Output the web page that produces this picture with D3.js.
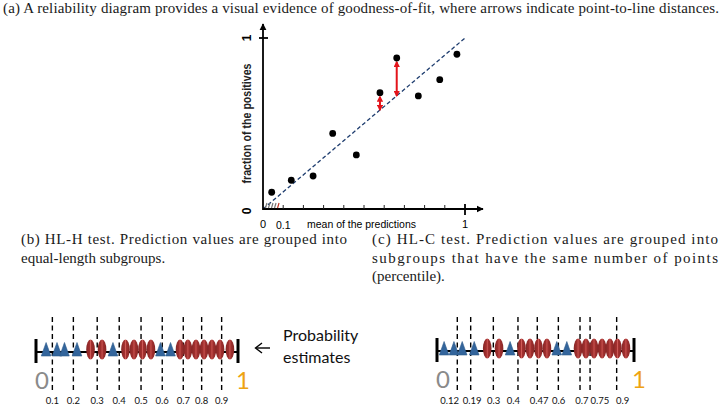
<!DOCTYPE html>
<html>
<head>
<meta charset="utf-8">
<script src="https://cdn.jsdelivr.net/npm/d3@7"></script>
<style>
  html, body { margin: 0; padding: 0; background: #fff; }
  svg { display: block; }
</style>
</head>
<body>
<svg id="chart" width="723" height="409"></svg>
<script>
// ---------------- DATA ----------------
// (a) reliability diagram
const meanPred   = [0.043, 0.140, 0.248, 0.345, 0.462, 0.579, 0.662, 0.769, 0.875, 0.960];
const fracPos    = [0.098, 0.168, 0.193, 0.442, 0.316, 0.680, 0.883, 0.661, 0.756, 0.905];
const arrowIdx   = [5, 6];
const minorTicks = [0.1, 0.2, 0.3, 0.4, 0.5, 0.6, 0.7, 0.8, 0.9];

// (b) HL-H test: equal-length subgroups
const hlhCuts      = [0.081, 0.185, 0.303, 0.412, 0.520, 0.625, 0.729, 0.820, 0.919];
const hlhLabelPos  = [0.081, 0.185, 0.303, 0.412, 0.520, 0.625, 0.729, 0.820, 0.919];
const hlhLabels    = ["0.1", "0.2", "0.3", "0.4", "0.5", "0.6", "0.7", "0.8", "0.9"];
const hlhTriangles = [0.050, 0.104, 0.141, 0.203, 0.381, 0.616, 0.666];
const hlhEllipses  = [0.270, 0.327, 0.443, 0.485, 0.527, 0.569, 0.713, 0.752, 0.792, 0.832, 0.871, 0.911, 0.960];

// (c) HL-C test: equal-count subgroups (percentile)
const hlcCuts      = [0.103, 0.171, 0.286, 0.411, 0.509, 0.616, 0.726, 0.777, 0.912];
const hlcLabelPos  = [0.064, 0.178, 0.287, 0.388, 0.518, 0.617, 0.736, 0.827, 0.942];
const hlcLabels    = ["0.12", "0.19", "0.3", "0.4", "0.47", "0.6", "0.7", "0.75", "0.9"];
const hlcTriangles = [0.036, 0.086, 0.128, 0.189, 0.371, 0.608, 0.659];
const hlcEllipses  = [0.255, 0.315, 0.429, 0.472, 0.515, 0.558, 0.716, 0.756, 0.797, 0.838, 0.878, 0.916, 0.959];

// captions
const captionA  = "(a) A reliability diagram provides a visual evidence of goodness-of-fit, where arrows indicate point-to-line distances.";
const captionB  = ["(b) HL-H test.  Prediction values are grouped into", "equal-length subgroups."];
const captionC  = ["(c) HL-C test.  Prediction values are grouped into", "subgroups that have the same number of points", "(percentile)."];
const sideLabel = ["Probability", "estimates"];

// ---------------- DRAW ----------------
const svg = d3.select("#chart");
const defs = svg.append("defs");

const serif = "'Liberation Serif', 'DejaVu Serif', serif";
const sans = "'Liberation Sans', Arial, sans-serif";
const calibri = "Lato, 'Open Sans', sans-serif";

defs.append("marker").attr("id", "redHead")
  .attr("viewBox", "0 0 10 10").attr("refX", 8).attr("refY", 5)
  .attr("markerWidth", 3.2).attr("markerHeight", 3.2)
  .attr("orient", "auto-start-reverse")
  .append("path").attr("d", "M0,0 L10,5 L0,10 z").attr("fill", "#e3141b");
defs.append("marker").attr("id", "blackHead")
  .attr("viewBox", "0 0 10 10").attr("refX", 9).attr("refY", 5)
  .attr("markerWidth", 4).attr("markerHeight", 4)
  .attr("orient", "auto")
  .append("path").attr("d", "M0,0 L10,5 L0,10 z").attr("fill", "#000");

const grad = defs.append("linearGradient").attr("id", "ellGrad")
  .attr("x1", "0%").attr("x2", "100%").attr("y1", "0%").attr("y2", "0%");
[["0%", "#862626"], ["40%", "#a3302f"], ["50%", "#cf5b58"], ["60%", "#a3302f"], ["100%", "#862626"]]
  .forEach(([o, c]) => grad.append("stop").attr("offset", o).attr("stop-color", c));

// ---- captions ----
const capFont = 15;
function caption(txt, cx, cy, w) {
  const t = svg.append("text").attr("x", cx).attr("y", cy)
    .attr("font-family", serif).attr("font-size", capFont)
    .attr("fill", "#1a1a1a").text(txt);
  if (w) t.attr("textLength", w).attr("lengthAdjust", "spacing");
  return t;
}
caption(captionA, 3, 13, 716);
caption(captionB[0], 21, 244, 326);
caption(captionB[1], 21, 262.5, null);
caption(captionC[0], 372, 244, 346);
caption(captionC[1], 372, 262.5, 346);
caption(captionC[2], 372, 281, null);

// ---- (a) reliability diagram ----
const x = d3.scaleLinear().domain([0, 1]).range([263, 465]);
const y = d3.scaleLinear().domain([0, 1]).range([209, 38]);
const gA = svg.append("g");

gA.append("line")
  .attr("x1", x(0)).attr("y1", y(0)).attr("x2", x(1)).attr("y2", y(1))
  .attr("stroke", "#1d3c6e").attr("stroke-width", 1.3).attr("stroke-dasharray", "4,2.5");

gA.append("line").attr("x1", x(0)).attr("y1", y(0)).attr("x2", 483).attr("y2", y(0))
  .attr("stroke", "#000").attr("stroke-width", 1.8).attr("marker-end", "url(#blackHead)");
gA.append("line").attr("x1", x(0)).attr("y1", y(0) + 1).attr("x2", x(0)).attr("y2", 24)
  .attr("stroke", "#000").attr("stroke-width", 1.8).attr("marker-end", "url(#blackHead)");

gA.selectAll(".mt").data(minorTicks).join("line")
  .attr("x1", d => x(d)).attr("x2", d => x(d))
  .attr("y1", y(0)).attr("y2", y(0) - 4)
  .attr("stroke", "#222").attr("stroke-width", 1);
gA.append("line").attr("x1", x(1)).attr("x2", x(1)).attr("y1", y(0) - 5).attr("y2", y(0) + 6)
  .attr("stroke", "#000").attr("stroke-width", 1.8);
gA.append("line").attr("x1", x(0) - 4).attr("x2", x(0) + 5).attr("y1", y(1)).attr("y2", y(1))
  .attr("stroke", "#000").attr("stroke-width", 1.8);

const hatch = [0.012, 0.027, 0.042, 0.057, 0.072];
gA.selectAll(".hatch").data(hatch).join("line")
  .attr("x1", d => x(d)).attr("x2", d => x(d) + 1.5)
  .attr("y1", y(0) - 1).attr("y2", y(0) - 6)
  .attr("stroke", (d, i) => i === hatch.length - 1 ? "#c0392b" : "#777").attr("stroke-width", 1.2);

gA.append("text").attr("x", x(0)).attr("y", 228).attr("text-anchor", "middle")
  .attr("font-family", sans).attr("font-size", 11).text("0");
gA.append("text").attr("x", x(0.1)).attr("y", 228.5).attr("text-anchor", "middle")
  .attr("font-family", sans).attr("font-size", 10.5).text("0.1");
gA.append("text").attr("x", 307).attr("y", 228)
  .attr("font-family", sans).attr("font-size", 11)
  .attr("textLength", 109).attr("lengthAdjust", "spacingAndGlyphs").text("mean of the predictions");
gA.append("text").attr("x", x(1)).attr("y", 228).attr("text-anchor", "middle")
  .attr("font-family", sans).attr("font-size", 11).text("1");

gA.append("text").attr("transform", `translate(251,${y(0.5)}) rotate(-90)`)
  .attr("text-anchor", "middle")
  .attr("font-family", sans).attr("font-size", 12).attr("font-weight", "bold")
  .attr("fill", "#222")
  .attr("textLength", 120).attr("lengthAdjust", "spacingAndGlyphs")
  .text("fraction of the positives");
gA.append("text").attr("transform", `translate(251,${y(0) + 2}) rotate(-90)`)
  .attr("text-anchor", "middle").attr("font-family", sans).attr("font-size", 12).attr("font-weight", "bold").text("0");
gA.append("text").attr("transform", `translate(251,${y(1)}) rotate(-90)`)
  .attr("text-anchor", "middle").attr("font-family", sans).attr("font-size", 12).attr("font-weight", "bold").text("1");

gA.selectAll(".arr").data(arrowIdx).join("line")
  .attr("x1", i => x(meanPred[i])).attr("x2", i => x(meanPred[i]))
  .attr("y1", i => y(fracPos[i]) + 4).attr("y2", i => y(meanPred[i]))
  .attr("stroke", "#e3141b").attr("stroke-width", 2)
  .attr("marker-start", "url(#redHead)").attr("marker-end", "url(#redHead)");

gA.selectAll(".pt").data(meanPred).join("circle")
  .attr("cx", d => x(d)).attr("cy", (d, i) => y(fracPos[i])).attr("r", 3.4)
  .attr("fill", "#000");

// ---- number lines (b) and (c) ----
function numberLine(x0, x1, lineY, cuts, labelPos, labels, tris, ells) {
  const s = d3.scaleLinear().domain([0, 1]).range([x0, x1]);
  const g = svg.append("g");
  g.selectAll(".cut").data(cuts).join("line")
    .attr("x1", d => s(d)).attr("x2", d => s(d))
    .attr("y1", 317).attr("y2", 393)
    .attr("stroke", "#000").attr("stroke-width", 1.4).attr("stroke-dasharray", "5,3.5");
  g.append("line").attr("x1", s(0)).attr("x2", s(1)).attr("y1", lineY).attr("y2", lineY)
    .attr("stroke", "#000").attr("stroke-width", 2);
  [0, 1].forEach(v => g.append("line").attr("x1", s(v)).attr("x2", s(v))
    .attr("y1", lineY - 13).attr("y2", lineY + 11)
    .attr("stroke", "#000").attr("stroke-width", 3));
  g.selectAll(".tri").data(tris).join("path")
    .attr("d", d => `M${s(d) - 4.8},${lineY + 4} L${s(d)},${lineY - 9.5} L${s(d) + 4.8},${lineY + 4} Z`)
    .attr("fill", "#33659c").attr("stroke", "#2d5a8c").attr("stroke-width", 0.6)
    .attr("stroke-linejoin", "round");
  g.selectAll(".ell").data(ells).join("ellipse")
    .attr("cx", d => s(d)).attr("cy", lineY - 2.5).attr("rx", 4.3).attr("ry", 10)
    .attr("fill", "url(#ellGrad)");
  g.append("text").attr("x", s(0) + 6).attr("y", lineY + 37).attr("text-anchor", "middle")
    .attr("font-family", calibri).attr("font-size", 24).attr("fill", "#8a8a8a").text("0");
  g.append("text").attr("x", s(1) + 5).attr("y", lineY + 37).attr("text-anchor", "middle")
    .attr("font-family", calibri).attr("font-size", 24).attr("fill", "#eea312").text("1");
  g.selectAll(".lab").data(labelPos).join("text")
    .attr("x", d => s(d)).attr("y", 404).attr("text-anchor", "middle")
    .attr("font-family", calibri).attr("font-size", 9.5).attr("fill", "#111")
    .text((d, i) => labels[i]);
}
numberLine(36, 238, 352, hlhCuts, hlhLabelPos, hlhLabels, hlhTriangles, hlhEllipses);
numberLine(437, 634, 351, hlcCuts, hlcLabelPos, hlcLabels, hlcTriangles, hlcEllipses);

// Probability estimates annotation
svg.append("line").attr("x1", 270).attr("y1", 348).attr("x2", 256).attr("y2", 348)
  .attr("stroke", "#000").attr("stroke-width", 1.4);
svg.append("path").attr("d", "M262,343 L255.5,348 L262,353")
  .attr("fill", "none").attr("stroke", "#000").attr("stroke-width", 1.4);
svg.selectAll(".side").data(sideLabel).join("text")
  .attr("x", 283).attr("y", (d, i) => 341 + i * 22)
  .attr("font-family", calibri).attr("font-size", 16).attr("fill", "#111")
  .text(d => d);
</script>
</body>
</html>
